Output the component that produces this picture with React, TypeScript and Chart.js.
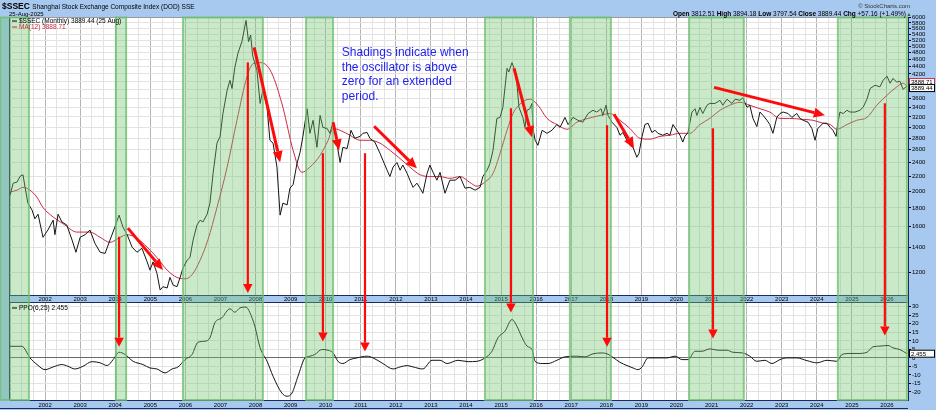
import React, { useEffect, useRef } from 'react';
import { Chart, registerables } from 'chart.js';

Chart.register(...registerables);

// ---------------- DATA ----------------
// x values are positions on the chart's year axis (label "2002" = 2002.0)
const PRICE_T = [
  2001.00, 2001.09, 2001.20, 2001.29, 2001.37, 2001.43, 2001.51, 2001.63, 2001.71, 2001.80, 2001.94,
  2002.08, 2002.23, 2002.28, 2002.37, 2002.48, 2002.62, 2002.77, 2002.88, 2003.00, 2003.14, 2003.28,
  2003.42, 2003.57, 2003.71, 2003.85, 2003.99, 2004.11, 2004.22, 2004.34, 2004.48, 2004.62, 2004.76,
  2004.91, 2004.99, 2005.08, 2005.19, 2005.28, 2005.36, 2005.48, 2005.56, 2005.65, 2005.76, 2005.85,
  2005.93, 2006.05, 2006.13, 2006.22, 2006.33, 2006.42, 2006.50, 2006.62, 2006.70, 2006.79, 2006.90,
  2006.99, 2007.07, 2007.19, 2007.27, 2007.33, 2007.41, 2007.50, 2007.61, 2007.73, 2007.80, 2007.86,
  2007.92, 2008.04, 2008.13, 2008.21, 2008.33, 2008.41, 2008.50, 2008.61, 2008.70, 2008.78, 2008.90,
  2008.98, 2009.07, 2009.18, 2009.27, 2009.35, 2009.47, 2009.55, 2009.64, 2009.75, 2009.84, 2009.92,
  2010.04, 2010.12, 2010.21, 2010.32, 2010.41, 2010.49, 2010.61, 2010.72, 2010.83, 2010.98, 2011.06,
  2011.18, 2011.26, 2011.40, 2011.55, 2011.63, 2011.75, 2011.83, 2011.92, 2012.03, 2012.12, 2012.20,
  2012.32, 2012.40, 2012.49, 2012.60, 2012.69, 2012.77, 2012.89, 2012.97, 2013.06, 2013.17, 2013.26,
  2013.40, 2013.54, 2013.69, 2013.83, 2013.97, 2014.11, 2014.26, 2014.40, 2014.48, 2014.60, 2014.68,
  2014.77, 2014.88, 2014.97, 2015.05, 2015.17, 2015.22, 2015.31, 2015.37, 2015.45, 2015.51, 2015.62,
  2015.68, 2015.74, 2015.82, 2015.88, 2015.91, 2015.97, 2016.05, 2016.17, 2016.31, 2016.45, 2016.59,
  2016.68, 2016.82, 2016.91, 2017.05, 2017.19, 2017.33, 2017.48, 2017.62, 2017.73, 2017.85, 2017.90,
  2017.99, 2018.05, 2018.16, 2018.30, 2018.39, 2018.47, 2018.59, 2018.67, 2018.76, 2018.87, 2018.93,
  2019.02, 2019.10, 2019.19, 2019.30, 2019.39, 2019.47, 2019.61, 2019.73, 2019.81, 2019.90, 2020.01,
  2020.10, 2020.18, 2020.24, 2020.33, 2020.44, 2020.53, 2020.58, 2020.67, 2020.75, 2020.87, 2020.95,
  2021.10, 2021.24, 2021.32, 2021.44, 2021.58, 2021.67, 2021.81, 2021.89, 2022.01, 2022.09, 2022.18,
  2022.29, 2022.38, 2022.47, 2022.58, 2022.66, 2022.75, 2022.86, 2022.95, 2023.04, 2023.18, 2023.29,
  2023.43, 2023.52, 2023.61, 2023.75, 2023.86, 2023.95, 2024.03, 2024.18, 2024.29, 2024.38, 2024.46,
  2024.55, 2024.60, 2024.66, 2024.75, 2024.86, 2024.95, 2025.09, 2025.23, 2025.32, 2025.43, 2025.52,
  2025.66, 2025.80, 2025.89, 2026.00, 2026.09, 2026.17, 2026.28, 2026.37, 2026.46, 2026.57,
];
const PRICE = [
  1950, 2105, 2120, 2200, 2220, 2050, 1855, 1775, 1680, 1730, 1495,
  1565, 1666, 1520, 1730, 1647, 1615, 1469, 1360, 1495, 1520, 1565,
  1440, 1360, 1350, 1469, 1595, 1720, 1595, 1520, 1405, 1360, 1395,
  1280, 1215, 1280, 1190, 1071, 1094, 1085, 1160, 1105, 1094, 1160,
  1230, 1294, 1315, 1469, 1615, 1666, 1647, 1730, 1855, 2240, 2710,
  2830, 3270, 3786, 4033, 3830, 4380, 4790, 5150, 5890, 5150, 5370,
  4700, 4295, 3485, 3786, 3400, 2761, 2710, 2330, 1720, 1855, 1835,
  2040, 2085, 2380, 2560, 2830, 3370, 2885, 3133, 2640, 3230, 2995,
  2975, 2885, 3095, 2710, 2400, 2640, 2620, 2941, 2795, 2830, 2885,
  2900, 2795, 2730, 2540, 2434, 2285, 2195, 2330, 2400, 2285, 2360,
  2240, 2145, 2050, 2105, 2040, 1975, 2240, 2360, 2255, 2145, 2255,
  1975, 2145, 2145, 2195, 2040, 2050, 2014, 2050, 2195, 2285, 2380,
  2592, 3170, 3190, 3400, 4350, 4250, 4510, 4350, 3960, 3400, 3190,
  2995, 3337, 3370, 3485, 2975, 2761, 2675, 2941, 2885, 2941, 3050,
  2995, 3190, 3050, 3190, 3133, 3095, 3270, 3337, 3300, 3370, 3230,
  3445, 3230, 3095, 2995, 2850, 2900, 2761, 2675, 2640, 2480, 2540,
  2830, 3050, 3075, 2900, 2941, 2885, 2850, 2885, 2850, 3050, 2941,
  2850, 2730, 2830, 2900, 3300, 3370, 3230, 3400, 3270, 3445, 3485,
  3485, 3554, 3445, 3580, 3485, 3580, 3554, 3610, 3400, 3445, 3170,
  3010, 3300, 3230, 3133, 3050, 2885, 3190, 3270, 3300, 3270, 3190,
  3270, 3170, 3133, 3095, 2975, 2761, 2975, 3075, 3075, 2995, 2941,
  2830, 3075, 3300, 3270, 3337, 3300, 3300, 3337, 3400, 3580, 3830,
  3910, 3870, 4033, 4140, 3960, 4080, 3990, 4010, 3810, 3889.44,
];

const MA_T = [
  2001.00, 2001.20, 2001.37, 2001.57, 2001.77, 2001.94, 2002.23, 2002.51, 2002.91, 2003.28, 2003.57,
  2003.85, 2004.14, 2004.34, 2004.62, 2004.91, 2005.19, 2005.48, 2005.76, 2005.99, 2006.19, 2006.42,
  2006.64, 2006.90, 2007.19, 2007.47, 2007.76, 2007.93, 2008.13, 2008.33, 2008.50, 2008.78, 2009.07,
  2009.32, 2009.55, 2009.84, 2010.07, 2010.21, 2010.41, 2010.69, 2010.98, 2011.26, 2011.55, 2011.83,
  2012.12, 2012.40, 2012.69, 2012.97, 2013.26, 2013.54, 2013.83, 2014.11, 2014.31, 2014.54, 2014.77,
  2014.97, 2015.17, 2015.34, 2015.60, 2015.82, 2016.05, 2016.31, 2016.59, 2016.88, 2017.16, 2017.48,
  2017.82, 2018.10, 2018.39, 2018.67, 2018.96, 2019.24, 2019.53, 2019.81, 2020.10, 2020.38, 2020.67,
  2020.95, 2021.24, 2021.52, 2021.81, 2022.09, 2022.38, 2022.66, 2022.95, 2023.23, 2023.61, 2023.89,
  2024.18, 2024.38, 2024.57, 2024.86, 2025.14, 2025.43, 2025.71, 2026.00, 2026.28, 2026.46, 2026.57,
];
const MA = [
  1990, 2014, 2050, 2014, 1925, 1805, 1700, 1630, 1545, 1545, 1495,
  1448, 1495, 1520, 1485, 1405, 1315, 1215, 1160, 1150, 1180, 1294,
  1469, 1805, 2330, 3133, 4140, 4480, 4510, 4420, 4140, 3400, 2592,
  2255, 2330, 2510, 2761, 2975, 2941, 2850, 2761, 2761, 2710, 2592,
  2460, 2330, 2220, 2195, 2195, 2170, 2195, 2115, 2065, 2120, 2240,
  2540, 2941, 3270, 3510, 3580, 3445, 3170, 3050, 2960, 3095, 3170,
  3230, 3270, 3133, 2975, 2795, 2780, 2830, 2850, 2885, 2885, 3050,
  3170, 3337, 3445, 3510, 3445, 3370, 3300, 3170, 3170, 3150, 3133,
  3075, 3050, 2960, 3050, 3133, 3190, 3445, 3670, 3870, 3960, 3888.71,
];

const PPO_T = [
  2001.00, 2001.34, 2001.57, 2001.77, 2002.00, 2002.23, 2002.48, 2002.65, 2002.85, 2003.08, 2003.34,
  2003.57, 2003.77, 2003.94, 2004.11, 2004.28, 2004.51, 2004.79, 2004.99, 2005.19, 2005.42, 2005.62,
  2005.79, 2005.99, 2006.19, 2006.36, 2006.56, 2006.70, 2006.84, 2007.04, 2007.27, 2007.41, 2007.56,
  2007.73, 2007.84, 2007.98, 2008.13, 2008.33, 2008.50, 2008.75, 2008.90, 2009.04, 2009.21, 2009.41,
  2009.55, 2009.69, 2009.89, 2010.07, 2010.21, 2010.35, 2010.49, 2010.69, 2010.89, 2011.18, 2011.35,
  2011.63, 2011.92, 2012.12, 2012.32, 2012.49, 2012.77, 2013.03, 2013.26, 2013.46, 2013.77, 2014.06,
  2014.31, 2014.54, 2014.74, 2014.91, 2015.11, 2015.31, 2015.45, 2015.60, 2015.74, 2015.88, 2015.97,
  2016.17, 2016.34, 2016.59, 2016.82, 2017.16, 2017.39, 2017.62, 2017.88, 2018.02, 2018.19, 2018.39,
  2018.59, 2018.76, 2018.90, 2019.02, 2019.19, 2019.47, 2019.73, 2019.96, 2020.16, 2020.33, 2020.53,
  2020.73, 2020.95, 2021.18, 2021.44, 2021.61, 2021.89, 2022.09, 2022.29, 2022.52, 2022.72, 2022.95,
  2023.15, 2023.43, 2023.72, 2024.00, 2024.29, 2024.57, 2024.72, 2024.95, 2025.17, 2025.43, 2025.60,
  2025.80, 2026.03, 2026.17, 2026.37, 2026.57,
];
const PPO = [
  6.8, 6.8, 0, -3.9, -6.9, -5.3, -3.9, -4.9, -6.5, -4.9, -2.2,
  -2.9, -4.5, -1.0, 3.3, 2.0, -2.0, -3.9, -5.9, -6.5, -8.8, -6.5,
  -5.3, -1.0, 2.0, 9.2, 9.8, 11.8, 20.6, 23.5, 28.8, 26.8, 29.4,
  29.8, 26.5, 18.6, 5.9, -2.0, -10.8, -20.6, -22.5, -20.6, -10.8, 0,
  1.0, 2.0, 4.9, 4.5, 2.9, -2.0, -3.3, -1.0, 0, 1.0, 0,
  -3.3, -6.5, -5.3, -4.5, -5.3, -6.5, -1.4, -1.4, -3.3, -1.4, -2.2,
  -2.0, 0, 3.9, 11.8, 15.7, 22.5, 18.6, 11.8, 6.9, 4.9, -2.0,
  -3.3, -3.3, -1.4, 0.6, 1.0, 0.6, 2.4, 2.9, 2.4, 0.3, -2.6,
  -4.5, -5.9, -6.9, -5.3, 0, 0, 0, 1.0, -1.0, -1.0, 3.9,
  3.9, 5.3, 4.5, 4.5, 3.3, 2.9, 1.0, -2.0, -1.4, -3.3, -1.0,
  0, 0, -1.6, -2.9, -1.4, -2.0, 2.0, 2.6, 2.6, 3.3, 6.5,
  6.9, 7.3, 5.9, 4.9, 2.455,
];

const YEAR_LABELS = [
  '2002', '2003', '2004', '2005', '2006', '2007', '2008', '2009', '2010', '2011', '2012', '2013',
  '2014', '2015', '2016', '2017', '2018', '2019', '2020', '2021', '2022', '2023', '2024', '2025', '2026',
];
const PRICE_TICKS = [
  1200, 1400, 1600, 1800, 2000, 2200, 2400, 2600, 2800, 3000, 3200, 3400, 3600, 3800, 4000, 4200,
  4400, 4600, 4800, 5000, 5200, 5400, 5600, 5800, 6000,
];
const PPO_TICKS = [-20, -15, -10, -5, 0, 5, 10, 15, 20, 25, 30];

// shaded periods (oscillator above zero)
const SHADE_START = [2000.72, 2004.02, 2005.93, 2009.44, 2014.54, 2016.96, 2020.36, 2024.60];
const SHADE_END = [2001.54, 2004.31, 2008.21, 2010.21, 2015.91, 2018.13, 2021.92, 2026.57];

// long vertical arrows: from a price level down to a PPO level (or price level)
const VARROW_T = [2004.11, 2007.78, 2009.92, 2011.12, 2015.28, 2018.02, 2021.04, 2025.94];
const VARROW_FROM = [1500, 4518, 2544, 2544, 3380, 3036, 2978, 3488];
const VARROW_TO = [6.6, 1051, 9.6, 3.7, 26.6, 6.6, 11.4, 13.1];
const VARROW_TO_AXIS = ['y2', 'y', 'y2', 'y2', 'y2', 'y2', 'y2', 'y2'];

// diagonal arrows on the price panel
const DARROW_T1 = [2004.36, 2007.96, 2010.21, 2011.38, 2015.37, 2018.22, 2021.07];
const DARROW_P1 = [1584, 4967, 3094, 3017, 4350, 3254, 3858];
const DARROW_T2 = [2005.36, 2008.70, 2010.38, 2012.60, 2015.88, 2018.79, 2024.23];
const DARROW_P2 = [1215, 2404, 2592, 2313, 2814, 2625, 3233];

const NOTE_LINES = ['Shadings indicate when', 'the oscillator is above', 'zero for an extended', 'period.'];
const NOTE_T = 2010.46;
const NOTE_PRICE = 4692;

const SYMBOL = '$SSEC';
const TITLE = 'Shanghai Stock Exchange Composite Index (DOD) SSE';
const DATE_LABEL = '25-Aug-2025';
const OPEN = 3812.51;
const HIGH = 3894.18;
const LOW = 3797.54;
const CLOSE = 3889.44;
const CHG = 57.16;
const CHG_PCT = 1.49;
const LAST_MA = 3888.71;
const LAST_PPO = 2.455;

// ---------------- STYLE ----------------
const FONT = '"Liberation Sans", Arial, sans-serif';
const BG_BLUE = '#a7c8ef';
const NAVY = '#1c2a5c';
const MA_RED = '#cc2a44';
const SHADE_FILL = 'rgba(112, 196, 112, 0.38)';
const SHADE_EDGE = 'rgba(110, 190, 110, 0.75)';
const ARROW_RED = '#ff0a0a';
const BAND_H = 8;

function drawArrow(ctx: CanvasRenderingContext2D, x1: number, y1: number, x2: number, y2: number, lw: number, hl: number, hw: number) {
  const ang = Math.atan2(y2 - y1, x2 - x1);
  const bx = x2 - hl * Math.cos(ang);
  const by = y2 - hl * Math.sin(ang);
  ctx.beginPath();
  ctx.moveTo(x1, y1);
  ctx.lineTo(bx, by);
  ctx.lineWidth = lw;
  ctx.stroke();
  ctx.beginPath();
  ctx.moveTo(x2, y2);
  ctx.lineTo(bx + (hw / 2) * Math.sin(ang), by - (hw / 2) * Math.cos(ang));
  ctx.lineTo(bx - (hw / 2) * Math.sin(ang), by + (hw / 2) * Math.cos(ang));
  ctx.closePath();
  ctx.fill();
}

function hline(ctx: CanvasRenderingContext2D, x1: number, x2: number, y: number) {
  ctx.beginPath();
  ctx.moveTo(x1, y);
  ctx.lineTo(x2, y);
  ctx.stroke();
}

const decor = {
  id: 'decor',
  beforeDraw(chart: any) {
    const { ctx, chartArea: a, width, height } = chart;
    ctx.save();
    ctx.fillStyle = BG_BLUE;
    ctx.fillRect(0, 0, width, height);
    ctx.fillStyle = '#ffffff';
    ctx.fillRect(a.left, a.top, a.right - a.left, a.bottom - a.top);
    ctx.restore();
  },
  beforeDatasetsDraw(chart: any) {
    const { ctx, chartArea: a, scales } = chart;
    const x = scales.x;
    const yb = scales.y.bottom;
    ctx.save();
    ctx.fillStyle = BG_BLUE;
    ctx.fillRect(a.left, yb, a.right - a.left, BAND_H);
    ctx.strokeStyle = NAVY;
    ctx.lineWidth = 1;
    hline(ctx, a.left, a.right, Math.round(yb) + 0.5);
    hline(ctx, a.left, a.right, Math.round(yb + BAND_H) - 0.5);
    ctx.fillStyle = '#000';
    ctx.font = `6px ${FONT}`;
    ctx.textAlign = 'center';
    ctx.textBaseline = 'middle';
    YEAR_LABELS.forEach((lab) => {
      ctx.fillText(lab, x.getPixelForValue(Number(lab)), yb + BAND_H / 2 + 0.5);
    });
    ctx.restore();
  },
  afterDraw(chart: any) {
    const { ctx, chartArea: a, scales } = chart;
    const x = scales.x;
    const y = scales.y;
    const y2 = scales.y2;
    ctx.save();

    // frame lines
    ctx.strokeStyle = NAVY;
    ctx.lineWidth = 1;
    ctx.beginPath();
    ctx.moveTo(a.left - 0.5, a.top);
    ctx.lineTo(a.left - 0.5, a.bottom);
    ctx.stroke();
    hline(ctx, a.left, a.right, Math.round(a.bottom) + 0.5);
    hline(ctx, 0, a.right, chart.height - 1.5);
    ctx.strokeStyle = '#9a9a9a';
    hline(ctx, a.left, a.right, Math.round(a.top) - 0.5);

    // shading
    for (let i = 0; i < SHADE_START.length; i++) {
      const x1 = x.getPixelForValue(SHADE_START[i]);
      const x2 = x.getPixelForValue(SHADE_END[i]);
      ctx.fillStyle = SHADE_FILL;
      ctx.fillRect(x1, a.top, x2 - x1, a.bottom - a.top);
      ctx.strokeStyle = SHADE_EDGE;
      ctx.lineWidth = 2;
      ctx.strokeRect(x1, a.top, x2 - x1, a.bottom - a.top);
    }

    // arrows
    ctx.strokeStyle = ARROW_RED;
    ctx.fillStyle = ARROW_RED;
    ctx.lineCap = 'butt';
    for (let i = 0; i < VARROW_T.length; i++) {
      const px = x.getPixelForValue(VARROW_T[i]);
      const py1 = y.getPixelForValue(VARROW_FROM[i]);
      const py2 = scales[VARROW_TO_AXIS[i]].getPixelForValue(VARROW_TO[i]);
      drawArrow(ctx, px, py1, px, py2, 2.2, 9, 9.5);
    }
    for (let i = 0; i < DARROW_T1.length; i++) {
      drawArrow(
        ctx,
        x.getPixelForValue(DARROW_T1[i]),
        y.getPixelForValue(DARROW_P1[i]),
        x.getPixelForValue(DARROW_T2[i]),
        y.getPixelForValue(DARROW_P2[i]),
        3,
        11,
        10,
      );
    }

    // note
    ctx.fillStyle = '#1e1ef0';
    ctx.font = `12px ${FONT}`;
    ctx.textAlign = 'left';
    ctx.textBaseline = 'alphabetic';
    const nx = x.getPixelForValue(NOTE_T);
    const ny = y.getPixelForValue(NOTE_PRICE);
    NOTE_LINES.forEach((ln, i) => ctx.fillText(ln, nx, ny + i * 14.4));

    // legends
    ctx.textBaseline = 'middle';
    ctx.font = `6.5px ${FONT}`;
    ctx.lineWidth = 1;
    const lx = a.left + 2;
    ctx.strokeStyle = '#000';
    hline(ctx, lx, lx + 5, a.top + 3.5);
    ctx.fillStyle = '#000';
    ctx.fillText(`${SYMBOL} (Monthly) ${CLOSE.toFixed(2)} (25 Aug)`, lx + 7, a.top + 3.5);
    ctx.strokeStyle = MA_RED;
    hline(ctx, lx, lx + 5, a.top + 9.5);
    ctx.fillStyle = MA_RED;
    ctx.fillText(`MA(12) ${LAST_MA.toFixed(2)}`, lx + 7, a.top + 9.5);
    const py = y2.top + BAND_H + 5;
    ctx.strokeStyle = '#000';
    hline(ctx, lx, lx + 5, py);
    ctx.fillStyle = '#000';
    ctx.fillText(`PPO(6,25) ${LAST_PPO.toFixed(3)}`, lx + 7, py);

    // header
    ctx.textBaseline = 'alphabetic';
    ctx.fillStyle = '#000';
    ctx.font = `bold 8.5px ${FONT}`;
    ctx.fillText(SYMBOL, 2, 9);
    const sw = ctx.measureText(SYMBOL).width;
    ctx.font = `6.5px ${FONT}`;
    ctx.fillText(TITLE, 2 + sw + 2.5, 9);
    ctx.font = `6px ${FONT}`;
    ctx.fillText(DATE_LABEL, 9, 16);

    ctx.textAlign = 'right';
    ctx.fillStyle = '#333';
    ctx.font = `6px ${FONT}`;
    ctx.fillText('© StockCharts.com', a.right + 2, 7.5);

    const parts: [string, boolean][] = [
      ['Open ', true], [`${OPEN.toFixed(2)} `, false],
      ['High ', true], [`${HIGH.toFixed(2)} `, false],
      ['Low ', true], [`${LOW.toFixed(2)} `, false],
      ['Close ', true], [`${CLOSE.toFixed(2)} `, false],
      ['Chg ', true], [`+${CHG.toFixed(2)} (+${CHG_PCT.toFixed(2)}%)`, false],
    ];
    ctx.textAlign = 'left';
    let total = 0;
    parts.forEach(([s, b]) => {
      ctx.font = `${b ? 'bold ' : ''}6.5px ${FONT}`;
      total += ctx.measureText(s).width;
    });
    let cx = a.right - 2 - total;
    ctx.fillStyle = '#000';
    parts.forEach(([s, b]) => {
      ctx.font = `${b ? 'bold ' : ''}6.5px ${FONT}`;
      ctx.fillText(s, cx, 15.5);
      cx += ctx.measureText(s).width;
    });
    ctx.fillStyle = '#1a6a1a';
    ctx.font = `5px ${FONT}`;
    ctx.fillText('▲', cx + 0.5, 15.5);

    // value tags on the right axis
    const tag = (yy: number, txt: string, edge: string, col: string) => {
      const tx = a.right + 1;
      ctx.fillStyle = '#fff';
      ctx.fillRect(tx, yy - 3.5, 26, 7);
      ctx.strokeStyle = edge;
      ctx.lineWidth = 1;
      ctx.strokeRect(tx + 0.5, yy - 3.5, 25, 7);
      ctx.fillStyle = col;
      ctx.font = `6px ${FONT}`;
      ctx.textAlign = 'left';
      ctx.textBaseline = 'middle';
      ctx.fillText(txt, tx + 2, yy + 0.3);
    };
    const cy = y.getPixelForValue(CLOSE);
    tag(cy - 4, LAST_MA.toFixed(2), MA_RED, '#000');
    tag(cy + 2, CLOSE.toFixed(2), '#000', '#000');
    tag(y2.getPixelForValue(LAST_PPO), LAST_PPO.toFixed(3), '#000', '#000');

    ctx.restore();
  },
};

const isMajor = (v: number) => Math.abs(v - Math.round(v)) < 1e-6;

export default function App() {
  const ref = useRef<HTMLCanvasElement>(null);
  useEffect(() => {
    const chart = new Chart(ref.current as HTMLCanvasElement, {
      type: 'line',
      data: {
        datasets: [
          {
            label: SYMBOL,
            data: PRICE_T.map((t, i) => ({ x: t, y: PRICE[i] })),
            borderColor: '#151515',
            borderWidth: 1,
            pointRadius: 0,
            yAxisID: 'y',
          },
          {
            label: 'MA(12)',
            data: MA_T.map((t, i) => ({ x: t, y: MA[i] })),
            borderColor: MA_RED,
            borderWidth: 1,
            pointRadius: 0,
            cubicInterpolationMode: 'monotone',
            yAxisID: 'y',
          },
          {
            label: 'PPO(6,25)',
            data: PPO_T.map((t, i) => ({ x: t, y: PPO[i] })),
            borderColor: '#151515',
            borderWidth: 1,
            pointRadius: 0,
            cubicInterpolationMode: 'monotone',
            yAxisID: 'y2',
          },
        ],
      },
      options: {
        animation: false,
        responsive: false,
        events: [],
        layout: { padding: { top: 17.5, left: 10, right: 0, bottom: 0 } },
        plugins: { legend: { display: false }, tooltip: { enabled: false } },
        scales: {
          x: {
            type: 'linear',
            min: 2001,
            max: 2026.6,
            afterBuildTicks: (s: any) => {
              const t: any[] = [];
              for (let k = 0; k <= 77; k++) {
                const v = 2001 + k / 3;
                if (v <= 2026.6) t.push({ value: v });
              }
              s.ticks = t;
            },
            afterFit: (s: any) => {
              s.height = 10;
            },
            ticks: {
              autoSkip: false,
              maxRotation: 0,
              minRotation: 0,
              padding: 2,
              color: '#000',
              font: { size: 6, family: FONT },
              callback: (v: any) => {
                const n = Number(v);
                if (!isMajor(n)) return '';
                const idx = Math.round(n) - 2002;
                return YEAR_LABELS[idx] ?? '';
              },
            },
            grid: {
              drawTicks: false,
              color: (c: any) => (c.tick && isMajor(c.tick.value) ? '#b4b4b4' : '#e3e3e3'),
            },
            border: { display: false },
          },
          y: {
            type: 'logarithmic',
            position: 'right',
            stack: 'panes',
            stackWeight: 277.5,
            min: 1038,
            max: 6000,
            afterBuildTicks: (s: any) => {
              s.ticks = PRICE_TICKS.map((v) => ({ value: v }));
            },
            afterFit: (s: any) => {
              s.width = 28;
            },
            ticks: {
              autoSkip: false,
              padding: 1,
              color: '#000',
              font: { size: 6, family: FONT },
              callback: (v: any) => String(v),
            },
            grid: { color: '#e3e3e3', tickColor: '#000', tickLength: 3 },
            border: { color: NAVY, width: 1 },
          },
          y2: {
            type: 'linear',
            position: 'right',
            stack: 'panes',
            stackWeight: 105,
            min: -24.7,
            max: 36.9,
            afterBuildTicks: (s: any) => {
              s.ticks = PPO_TICKS.map((v) => ({ value: v }));
            },
            afterFit: (s: any) => {
              s.width = 28;
            },
            ticks: {
              autoSkip: false,
              padding: 1,
              color: '#000',
              font: { size: 6, family: FONT },
              callback: (v: any) => String(v),
            },
            grid: {
              color: (c: any) => (c.tick && c.tick.value === 0 ? '#6a6a6a' : '#e3e3e3'),
              tickColor: '#000',
              tickLength: 3,
            },
            border: { color: NAVY, width: 1 },
          },
        },
      },
      plugins: [decor],
    } as any);
    return () => chart.destroy();
  }, []);

  return (
    <div style={{ position: 'absolute', left: 0, top: 0, width: 936, height: 410 }}>
      <canvas ref={ref} width={936} height={410} style={{ display: 'block', width: 936, height: 410 }} />
    </div>
  );
}
